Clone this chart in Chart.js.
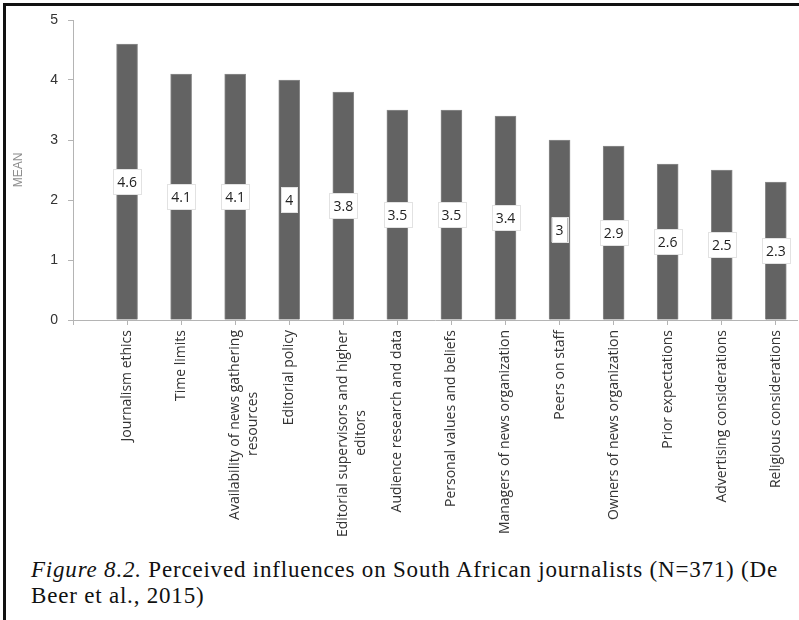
<!DOCTYPE html>
<html>
<head>
<meta charset="utf-8">
<script src="https://cdn.jsdelivr.net/npm/chart.js@4.4.1/dist/chart.umd.min.js"></script>
<style>
  html, body { margin: 0; padding: 0; background: #fff; }
  #wrap { position: relative; width: 799px; height: 620px; overflow: hidden; }
  #frame {
    position: absolute; left: 3px; top: 3px; width: 820px; height: 640px;
    border-left: 3px solid #111; border-top: 3px solid #111; pointer-events: none;
  }
  #chart { position: absolute; left: 0; top: 0; }
  #caption {
    position: absolute; left: 31px; top: 557px; width: 780px;
    font-family: "Liberation Serif", "DejaVu Serif", serif;
    font-size: 23px; line-height: 26px; letter-spacing: 0.8px;
    color: #111; white-space: nowrap;
  }
</style>
</head>
<body>
<div id="wrap">
  <canvas id="chart" width="799" height="540"></canvas>
  <div id="caption"><i>Figure 8.2.</i> Perceived influences on South African journalists (N=371) (De<br>Beer et al., 2015)</div>
  <div id="frame"></div>
</div>
<script>
// categories, left to right
const categories = [
  'Journalism ethics',
  'Time limits',
  ['Availability of news gathering', 'resources'],
  'Editorial policy',
  ['Editorial supervisors and higher', 'editors'],
  'Audience research and data',
  'Personal values and beliefs',
  'Managers of news organization',
  'Peers on staff',
  'Owners of news organization',
  'Prior expectations',
  'Advertising considerations',
  'Religious considerations'
];

// mean scores
const means = [4.6, 4.1, 4.1, 4, 3.8, 3.5, 3.5, 3.4, 3, 2.9, 2.6, 2.5, 2.3];

// y axis ticks
const yTicks = [0, 1, 2, 3, 4, 5];

const axisGray = '#b4b4b4';
const labelFont = '14px "Open Sans", sans-serif';

// centre the short second line under the long one (labels are drawn end-aligned)
const mctx = document.createElement('canvas').getContext('2d');
mctx.font = labelFont;
function centreLines(lines) {
  if (!Array.isArray(lines)) return lines;
  const widths = lines.map(l => mctx.measureText(l).width);
  const maxW = Math.max(...widths);
  const sp = mctx.measureText(' ').width;
  return lines.map((l, i) => l + ' '.repeat(Math.round((maxW - widths[i]) / 2 / sp)));
}
const tickLabels = categories.map(centreLines);

// value label in a white box, centred on each bar
const valueBoxes = {
  id: 'valueBoxes',
  afterDatasetsDraw(chart) {
    const ctx = chart.ctx;
    const meta = chart.getDatasetMeta(0);
    ctx.save();
    ctx.font = '14px "Open Sans", sans-serif';
    ctx.textAlign = 'center';
    ctx.textBaseline = 'middle';
    meta.data.forEach((bar, i) => {
      const txt = String(means[i]);
      const w = ctx.measureText(txt).width + 8;
      const h = 25;
      const cy = (bar.y + bar.base) / 2;
      ctx.fillStyle = '#fff';
      ctx.fillRect(bar.x - w / 2, cy - h / 2, w, h);
      ctx.strokeStyle = '#e2e2e2';
      ctx.lineWidth = 1;
      ctx.strokeRect(Math.round(bar.x - w / 2) + 0.5, Math.round(cy - h / 2) + 0.5, Math.round(w), h);
      ctx.fillStyle = '#222';
      ctx.fillText(txt, bar.x, cy + 1);
    });
    ctx.restore();
  }
};

const points = means.map((v, i) => ({ x: i + 1, y: v }));

new Chart(document.getElementById('chart'), {
  type: 'bar',
  data: {
    datasets: [{
      data: points,
      backgroundColor: '#636363',
      borderColor: '#8c8c8c',
      borderWidth: 1,
      barThickness: 21
    }]
  },
  options: {
    responsive: false,
    animation: false,
    layout: { padding: { top: 20, right: 0, bottom: 0, left: 0 } },
    plugins: {
      legend: { display: false },
      tooltip: { enabled: false }
    },
    scales: {
      x: {
        type: 'linear',
        min: 0,
        max: 13.41,
        offset: false,
        afterFit(scale) { scale.height = 220; },
        grid: { offset: false, drawOnChartArea: false, tickLength: 5, color: axisGray },
        border: { color: axisGray },
        ticks: {
          stepSize: 1,
          includeBounds: false,
          autoSkip: false,
          minRotation: 90,
          maxRotation: 90,
          padding: 5,
          color: '#333',
          font: { family: '"Open Sans", sans-serif', size: 14, lineHeight: 1.3 },
          callback: (v) => (Number.isInteger(v) && v >= 1 && v <= tickLabels.length) ? tickLabels[v - 1] : ''
        }
      },
      y: {
        min: yTicks[0],
        max: yTicks[yTicks.length - 1],
        afterFit(scale) { scale.width = 73; },
        grid: { drawOnChartArea: false, tickLength: 5, color: axisGray },
        border: { color: axisGray },
        ticks: {
          stepSize: 1,
          padding: 10,
          color: '#333',
          font: { family: '"Liberation Sans", Arial, sans-serif', size: 14 }
        },
        title: {
          display: true,
          text: 'MEAN',
          color: '#8e8e8e',
          padding: 11,
          font: { family: '"Liberation Sans", Arial, sans-serif', size: 12 }
        }
      }
    }
  },
  plugins: [valueBoxes]
});
</script>
</body>
</html>
